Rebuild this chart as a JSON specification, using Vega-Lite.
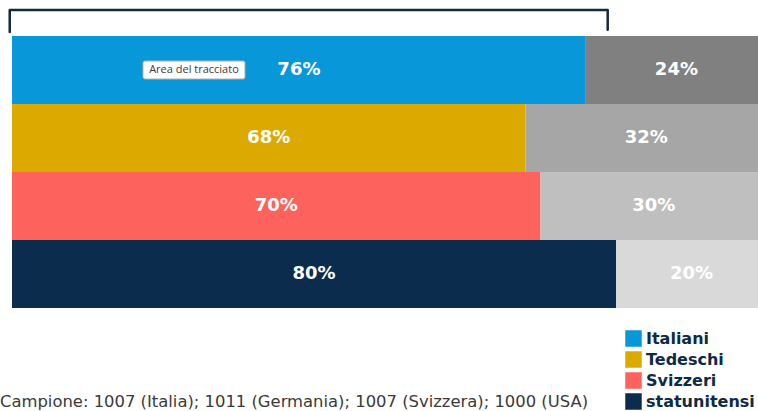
{
  "$schema": "https://vega.github.io/schema/vega-lite/v6.json",
  "width": 758,
  "height": 391,
  "autosize": {"type": "none"},
  "padding": {"left": 0, "top": 0, "right": 0, "bottom": 20},
  "background": "white",
  "config": {"view": {"stroke": null}},
  "title": {
    "text": "Campione: 1007 (Italia); 1011 (Germania); 1007 (Svizzera); 1000 (USA)",
    "orient": "bottom",
    "anchor": "start",
    "offset": -16,
    "font": "DejaVu Sans",
    "fontSize": 16.4,
    "fontWeight": "normal",
    "color": "#3a3a3a"
  },
  "datasets": {
    "bars": [
      {"nation": "Italiani", "v": 0.76, "rest": 0.24},
      {"nation": "Tedeschi", "v": 0.68, "rest": 0.32},
      {"nation": "Svizzeri", "v": 0.70, "rest": 0.30},
      {"nation": "statunitensi", "v": 0.80, "rest": 0.20}
    ],
    "tip": [
      {"nation": "Italiani", "label": "Area del tracciato", "x1": 0.1735, "x2": 0.3086, "xc": 0.241}
    ],
    "bracket": [
      {"o": 1, "bx": -0.003, "by": 1},
      {"o": 2, "bx": -0.003, "by": 0},
      {"o": 3, "bx": 0.789, "by": 0},
      {"o": 4, "bx": 0.789, "by": 0.9}
    ]
  },
  "layer": [
    {
      "data": {"name": "bars"},
      "mark": {"type": "bar"},
      "encoding": {
        "y": {"field": "nation", "type": "nominal", "axis": null,
              "scale": {"domain": ["Italiani", "Tedeschi", "Svizzeri", "statunitensi"], "range": [36, 308], "paddingInner": 0, "paddingOuter": 0}},
        "x": {"field": "v", "type": "quantitative", "axis": null,
              "scale": {"domain": [0, 1], "range": [12, 767], "nice": false, "zero": true}},
        "color": {"field": "nation", "type": "nominal",
                  "scale": {"domain": ["Italiani", "Tedeschi", "Svizzeri", "statunitensi"], "range": ["#0897d8", "#dca900", "#fe625d", "#0b2c4d"]},
                  "legend": {
                    "title": null, "orient": "none", "legendX": 625, "legendY": 330, "padding": 0,
                    "symbolType": "square", "symbolSize": 272, "symbolStrokeWidth": 0,
                    "labelFont": "DejaVu Sans", "labelFontWeight": "bold", "labelFontSize": 16,
                    "labelColor": "#0d2a47", "labelOffset": 4, "rowPadding": 4, "labelLimit": 300
                  }}
      }
    },
    {
      "data": {"name": "bars"},
      "mark": {"type": "bar"},
      "encoding": {
        "y": {"field": "nation", "type": "nominal", "axis": null,
              "scale": {"domain": ["Italiani", "Tedeschi", "Svizzeri", "statunitensi"], "range": [36, 308], "paddingInner": 0, "paddingOuter": 0}},
        "x": {"field": "v", "type": "quantitative", "axis": null,
              "scale": {"domain": [0, 1], "range": [12, 767], "nice": false, "zero": true}},
        "x2": {"datum": 1},
        "color": {"field": "nation", "type": "nominal", "legend": null,
                  "scale": {"domain": ["Italiani", "Tedeschi", "Svizzeri", "statunitensi"], "range": ["#808080", "#a6a6a6", "#bfbfbf", "#d9d9d9"]}}
      }
    },
    {
      "data": {"name": "bars"},
      "mark": {"type": "text", "font": "DejaVu Sans", "fontWeight": "bold", "fontSize": 18, "color": "white", "align": "center", "baseline": "middle"},
      "encoding": {
        "y": {"field": "nation", "type": "nominal", "axis": null,
              "scale": {"domain": ["Italiani", "Tedeschi", "Svizzeri", "statunitensi"], "range": [36, 308], "paddingInner": 0, "paddingOuter": 0}},
        "x": {"field": "v", "type": "quantitative", "axis": null,
              "scale": {"domain": [0, 2], "range": [12, 767], "nice": false, "zero": true}},
        "text": {"field": "v", "type": "quantitative", "format": ".0%"}
      }
    },
    {
      "data": {"name": "bars"},
      "mark": {"type": "text", "font": "DejaVu Sans", "fontWeight": "bold", "fontSize": 18, "color": "white", "align": "center", "baseline": "middle"},
      "encoding": {
        "y": {"field": "nation", "type": "nominal", "axis": null,
              "scale": {"domain": ["Italiani", "Tedeschi", "Svizzeri", "statunitensi"], "range": [36, 308], "paddingInner": 0, "paddingOuter": 0}},
        "x": {"field": "v", "type": "quantitative", "axis": null,
              "scale": {"domain": [-1, 1], "range": [12, 767], "nice": false, "zero": false}},
        "text": {"field": "rest", "type": "quantitative", "format": ".0%"}
      }
    },
    {
      "data": {"name": "tip"},
      "mark": {"type": "bar", "height": 18, "fill": "white", "stroke": "#b0b0b0", "strokeWidth": 1, "cornerRadius": 2},
      "encoding": {
        "y": {"field": "nation", "type": "nominal", "axis": null,
              "scale": {"domain": ["Italiani", "Tedeschi", "Svizzeri", "statunitensi"], "range": [36, 308], "paddingInner": 0, "paddingOuter": 0}},
        "x": {"field": "x1", "type": "quantitative", "axis": null,
              "scale": {"domain": [0, 1], "range": [12, 767], "nice": false, "zero": true}},
        "x2": {"field": "x2"}
      }
    },
    {
      "data": {"name": "tip"},
      "mark": {"type": "text", "font": "Open Sans", "fontSize": 11, "color": "#3c3c3c", "align": "center", "baseline": "middle"},
      "encoding": {
        "y": {"field": "nation", "type": "nominal", "axis": null,
              "scale": {"domain": ["Italiani", "Tedeschi", "Svizzeri", "statunitensi"], "range": [36, 308], "paddingInner": 0, "paddingOuter": 0}},
        "x": {"field": "xc", "type": "quantitative", "axis": null,
              "scale": {"domain": [0, 1], "range": [12, 767], "nice": false, "zero": true}},
        "text": {"field": "label", "type": "nominal"}
      }
    },
    {
      "data": {"name": "bracket"},
      "mark": {"type": "line", "color": "#16293a", "strokeWidth": 2.5, "strokeJoin": "round", "strokeCap": "round"},
      "encoding": {
        "x": {"field": "bx", "type": "quantitative", "axis": null,
              "scale": {"domain": [0, 1], "range": [12, 767], "nice": false, "zero": true}},
        "y": {"field": "by", "type": "quantitative", "axis": null,
              "scale": {"domain": [0, 1], "range": [10, 32], "nice": false, "zero": true}},
        "order": {"field": "o", "type": "quantitative"}
      }
    }
  ],
  "resolve": {"scale": {"x": "independent", "y": "independent", "color": "independent"}}
}
